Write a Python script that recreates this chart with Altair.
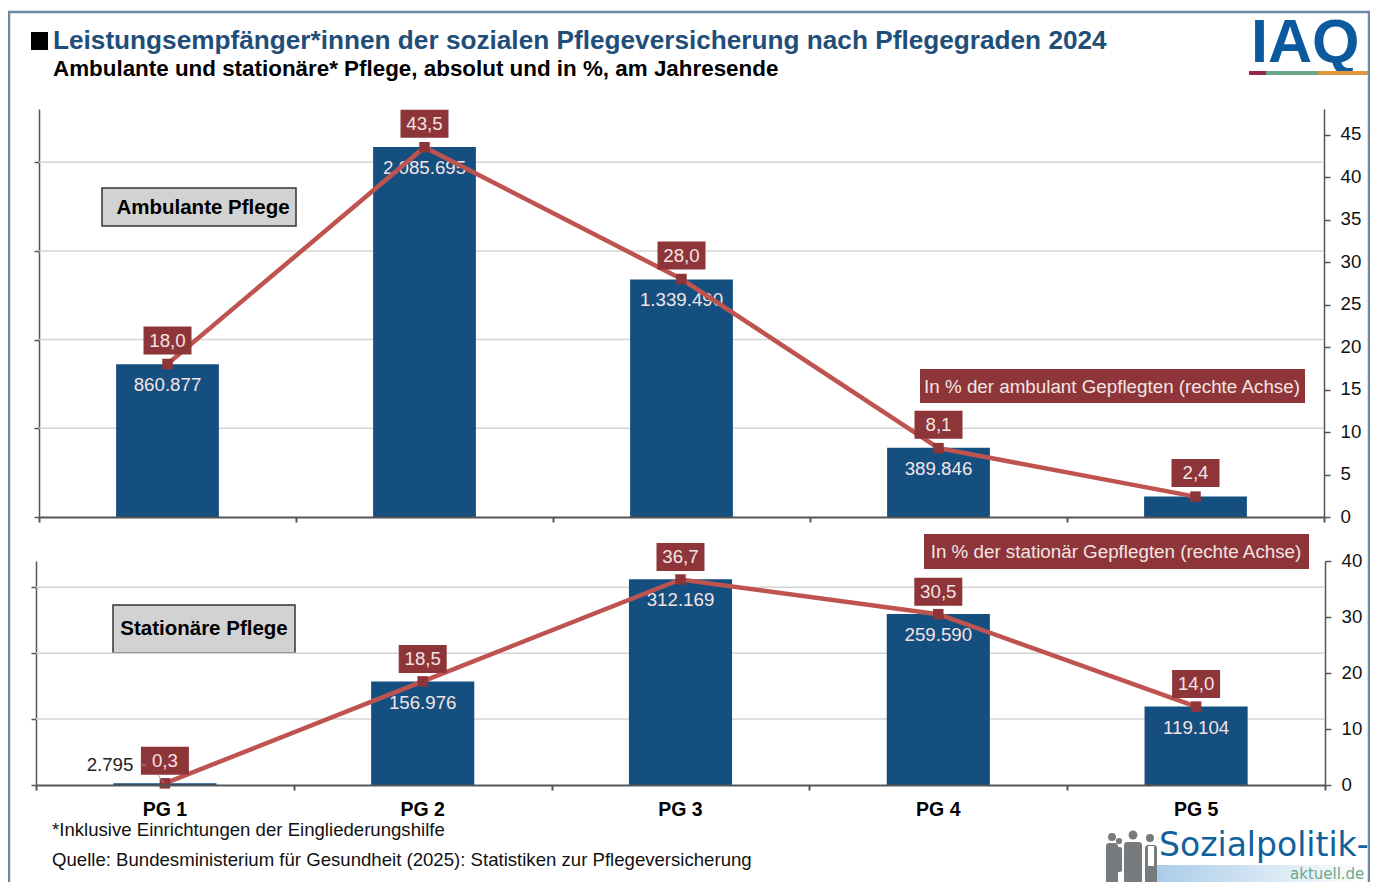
import altair as alt
import pandas as pd

CATS = ["PG 1", "PG 2", "PG 3", "PG 4", "PG 5"]
AMB_ABS = [860877, 2085695, 1339490, 389846, 116000]
AMB_ABS_LABEL = ["860.877", "2.085.695", "1.339.490", "389.846", ""]
AMB_PCT = [18.0, 43.5, 28.0, 8.1, 2.4]
AMB_PCT_LABEL = ["18,0", "43,5", "28,0", "8,1", "2,4"]
STA_ABS = [2795, 156976, 312169, 259590, 119104]
STA_ABS_LABEL = ["", "156.976", "312.169", "259.590", "119.104"]
STA_PCT = [0.3, 18.5, 36.7, 30.5, 14.0]
STA_PCT_LABEL = ["0,3", "18,5", "36,7", "30,5", "14,0"]
AMB_GRID = [500000, 1000000, 1500000, 2000000]
STA_GRID = [100000, 200000, 300000]
AMB_RIGHT_TICKS = [0, 5, 10, 15, 20, 25, 30, 35, 40, 45]
STA_RIGHT_TICKS = [0, 10, 20, 30, 40]
EDGES = [0, 1, 2, 3, 4, 5]

TITLE = "Leistungsempfänger*innen der sozialen Pflegeversicherung nach Pflegegraden 2024"
SUBTITLE = "Ambulante und stationäre* Pflege, absolut und in %, am Jahresende"
NOTE = "*Inklusive Einrichtungen der Eingliederungshilfe"
SOURCE = "Quelle: Bundesministerium für Gesundheit (2025): Statistiken zur Pflegeversicherung"

FONT = "Liberation Sans"
BLUE = "#154f80"
LINE = "#bf5350"
DARK = "#8e3539"
PALE = "#f3e4e4"
AXIS = "#555555"
W, H = 1362, 874


def px(v):
    return v - 8


def rect(x, x2, y, y2, fill, **kw):
    return alt.Chart().mark_rect(fill=fill, **kw).encode(
        x=alt.value(px(x)), x2=alt.value(px(x2)), y=alt.value(px(y)), y2=alt.value(px(y2)))


def text(s, x, y, size, color="#000000", weight="normal", align="left", font=FONT):
    return alt.Chart().mark_text(text=s, fontSize=size, color=color, fontWeight=weight, align=align,
                                 baseline="middle", font=font).encode(x=alt.value(px(x)), y=alt.value(px(y)))


def circle(x, y, d, fill):
    return alt.Chart().mark_circle(size=3.1416 * d * d / 4, color=fill, opacity=1).encode(
        x=alt.value(px(x)), y=alt.value(px(y)))


def segment(x, x2, y, y2, color, width):
    return alt.Chart().mark_rule(color=color, strokeWidth=width).encode(
        x=alt.value(px(x)), x2=alt.value(px(x2)), y=alt.value(px(y)), y2=alt.value(px(y2)))


def panel(abs_vals, abs_labels, pct_vals, pct_labels, grid, right_ticks, xr, yb, yt, abs_max, pct_max, show_cats, box_off):
    band = alt.Scale(domain=CATS, range=[px(xr[0]), px(xr[1])], paddingInner=0.6, paddingOuter=0.3)
    edge = alt.Scale(domain=[0, 5], range=[px(xr[0]), px(xr[1])], nice=False, zero=False)
    yl = alt.Scale(domain=[0, abs_max], range=[px(yb), px(yt)], nice=False)
    yr = alt.Scale(domain=[0, pct_max], range=[px(yb), px(yt)], nice=False)
    df = pd.DataFrame({"cat": CATS, "abs": abs_vals, "abs_label": abs_labels, "pct": pct_vals, "pct_label": pct_labels})
    base = alt.Chart(df)
    x_off = alt.X("cat:N", scale=band, axis=None, sort=None)
    grid_df = pd.DataFrame({"v": grid, "a": [0] * len(grid), "b": [5] * len(grid)})
    gridl = alt.Chart(grid_df).mark_rule(color="#d4d4d4", strokeWidth=1.5).encode(
        x=alt.X("a:Q", scale=edge, axis=None), x2="b:Q", y=alt.Y("v:Q", scale=yl, axis=None))
    edge_df = pd.DataFrame({"e": EDGES})
    edges = alt.Chart(edge_df).mark_point(opacity=0).encode(
        x=alt.X("e:Q", scale=edge, axis=alt.Axis(
            values=EDGES, labels=False, title=None, grid=False, orient="bottom", offset=-(8 + H - yb),
            domainColor=AXIS, tickColor=AXIS, domainWidth=2, tickWidth=2, tickSize=5, zindex=1)))
    left = alt.Y("abs:Q", scale=yl, axis=alt.Axis(
        values=[0] + grid, labels=False, title=None, grid=False, orient="left", offset=-px(xr[0]),
        domainColor=AXIS, tickColor=AXIS, domainWidth=1.5, tickWidth=1.5, tickSize=5))
    cat_axis = alt.Axis(orient="bottom", offset=-(8 + H - yb), title=None, domain=False, ticks=False, labelAngle=0,
                        labelFontSize=19.5, labelFontWeight="bold", labelFont=FONT, labelColor="#000000",
                        labelPadding=15, grid=False) if show_cats else None
    bars = base.mark_bar(color=BLUE).encode(x=alt.X("cat:N", scale=band, axis=cat_axis, sort=None), y=left)
    bar_text = base.mark_text(color=PALE, fontSize=18.7, font=FONT, baseline="middle", dy=21).encode(
        x=x_off, y=alt.Y("abs:Q", scale=yl, axis=None), text="abs_label:N")
    right = alt.Y("pct:Q", scale=yr, axis=alt.Axis(
        values=right_ticks, title=None, grid=False, orient="right", offset=-(8 + W - xr[1]),
        domainColor=AXIS, tickColor=AXIS, domainWidth=1.5, tickWidth=1.5, tickSize=6,
        labelFontSize=18.7, labelFont=FONT, labelColor="#111111", labelPadding=10, labelOffset=-1))
    line = base.mark_line(color=LINE, strokeWidth=4.5).encode(x=x_off, y=right)
    pts = base.mark_square(color=DARK, size=110, opacity=1).encode(x=x_off, y=alt.Y("pct:Q", scale=yr, axis=None))
    box = base.mark_rect(color=DARK, width=48, height=28, yOffset=box_off).encode(
        x=x_off, y=alt.Y("pct:Q", scale=yr, axis=None))
    box_text = base.mark_text(color=PALE, fontSize=18.7, font=FONT, baseline="middle", dy=box_off).encode(
        x=x_off, y=alt.Y("pct:Q", scale=yr, axis=None), text="pct_label:N")
    return [gridl, edges, bars, bar_text, line, pts, box, box_text]


top = panel(AMB_ABS, AMB_ABS_LABEL, AMB_PCT, AMB_PCT_LABEL, AMB_GRID, AMB_RIGHT_TICKS,
            (39, 1324), 517, 109, 2300000, 48, False, -23.5)
bottom = panel(STA_ABS, STA_ABS_LABEL, STA_PCT, STA_PCT_LABEL, STA_GRID, STA_RIGHT_TICKS,
               (36, 1325), 785, 561, 340000, 40, True, -22.5)

deco = [
    alt.Chart().mark_rect(fillOpacity=0, stroke="#6f88a3", strokeWidth=2.5).encode(
        x=alt.value(px(9)), x2=alt.value(px(1369)), y=alt.value(px(12)), y2=alt.value(px(930))),
    rect(31, 48, 32, 50, "#000000"),
    text(TITLE, 53, 41, 26.2, "#1f4e79", "bold"),
    text(SUBTITLE, 53, 69, 22.4, "#000000", "bold"),
    text("IAQ", 1251, 44, 61, "#0b5a9e", "bold"),
    rect(1249, 1266, 71, 75, "#97264f"),
    rect(1266, 1318, 71, 75, "#68a78a"),
    rect(1318, 1368, 71, 75, "#e0983f"),
    rect(102, 296, 188, 226, "#d2d2d2", stroke="#333333", strokeWidth=1.5),
    text("Ambulante Pflege", 203, 208, 20.5, "#000000", "bold", "center"),
    rect(113, 295, 605, 653, "#d2d2d2", stroke="#333333", strokeWidth=1.5),
    text("Stationäre Pflege", 204, 629, 20.5, "#000000", "bold", "center"),
]
over = [
    rect(920, 1305, 369, 403, DARK),
    text("In % der ambulant Gepflegten (rechte Achse)", 1112, 387, 18.8, PALE, "normal", "center"),
    rect(924, 1309, 534, 569, DARK),
    text("In % der stationär Gepflegten (rechte Achse)", 1116, 552, 18.8, PALE, "normal", "center"),
    text("2.795", 110, 765, 18.7, "#222222", "normal", "center"),
    segment(140, 146, 765, 765, "#999999", 1),
    segment(158, 164, 775, 783, "#999999", 1),
    text(NOTE, 52, 830, 18.6, "#111111"),
    text(SOURCE, 52, 860, 18.6, "#111111"),
    # Sozialpolitik-aktuell logo
    alt.Chart().mark_rect(color=alt.Gradient(
        gradient="linear", x1=0, x2=1, y1=0, y2=0,
        stops=[alt.GradientStop(color="#a9cbe8", offset=0), alt.GradientStop(color="#ffffff", offset=1)])).encode(
        x=alt.value(px(1153)), x2=alt.value(px(1367)), y=alt.value(px(865)), y2=alt.value(px(886))),
    text("Sozialpolitik-", 1159, 846, 33, "#12609c", font="DejaVu Sans"),
    text("aktuell.de", 1290, 873.5, 15, "#6aa98a", font="DejaVu Sans"),
    circle(1112, 837, 9, "#777b7e"),
    rect(1106, 1118, 843, 886, "#777b7e", cornerRadius=3),
    circle(1119, 841, 7, "#777b7e"),
    rect(1116, 1122, 847, 872, "#777b7e", cornerRadius=2),
    circle(1133, 835, 10, "#777b7e"),
    rect(1124, 1142, 842, 886, "#777b7e", cornerRadius=3),
    circle(1150, 838, 9, "#777b7e"),
    rect(1145, 1157, 845, 886, "#777b7e", cornerRadius=3),
    rect(1148, 1154, 846, 866, "#ffffff"),
]

chart = alt.layer(*deco, *top, *bottom, *over).resolve_scale(
    x="independent", y="independent"
).resolve_axis(x="independent", y="independent").properties(
    width=W, height=H, padding=0, background="#ffffff",
    autosize=alt.AutoSizeParams(type="none"),
).configure_view(stroke=None)

chart.save("out.html", embed_options={"renderer": "svg", "actions": False})
